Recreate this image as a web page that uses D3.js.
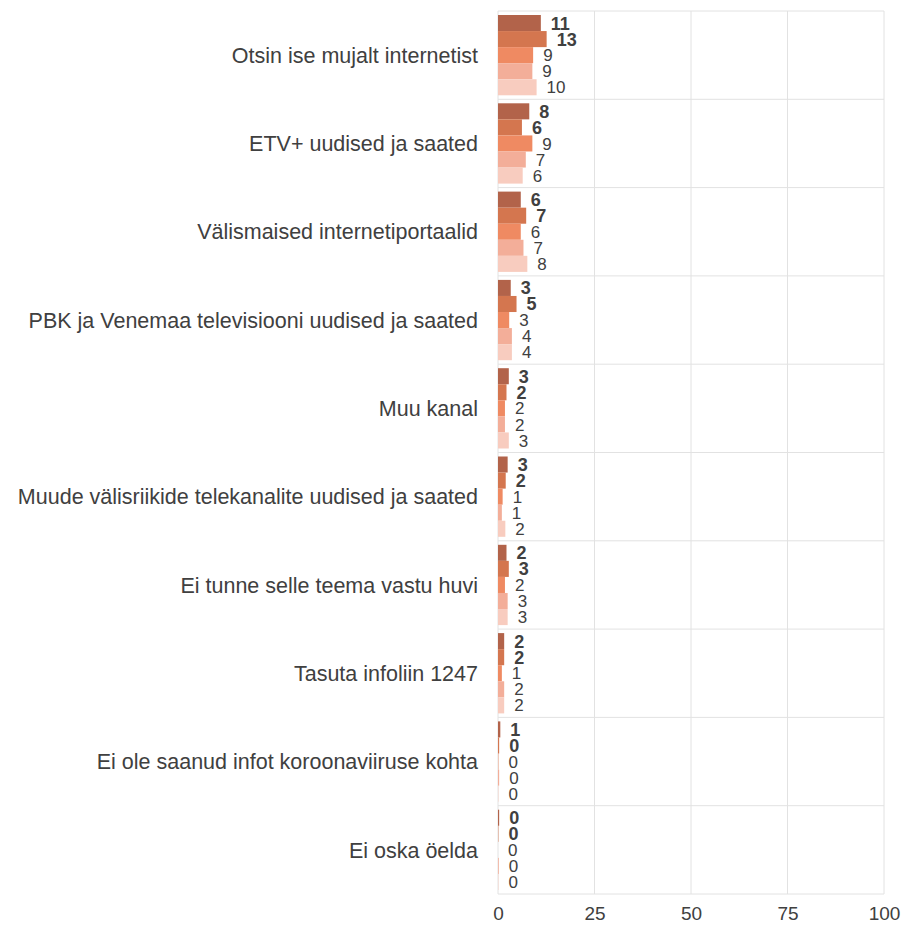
<!DOCTYPE html>
<html>
<head>
<meta charset="utf-8">
<script src="https://cdn.jsdelivr.net/npm/d3@7"></script>
<style>
  body { margin: 0; background: #fff; }
  #chart { width: 904px; height: 927px; }
  text { font-family: "Liberation Sans", Arial, sans-serif; }
</style>
</head>
<body>
<div id="chart"></div>
<script>
const categories = [
    "Otsin ise mujalt internetist",
    "ETV+ uudised ja saated",
    "Välismaised internetiportaalid",
    "PBK ja Venemaa televisiooni uudised ja saated",
    "Muu kanal",
    "Muude välisriikide telekanalite uudised ja saated",
    "Ei tunne selle teema vastu huvi",
    "Tasuta infoliin 1247",
    "Ei ole saanud infot koroonaviiruse kohta",
    "Ei oska öelda"
];
const seriesNames = ["s1", "s2", "s3", "s4", "s5"];
const series1 = [11.1, 8.1, 5.9, 3.3, 2.8, 2.5, 2.2, 1.6, 0.6, 0.3];
const series2 = [12.6, 6.2, 7.3, 4.8, 2.2, 2.0, 2.8, 1.6, 0.3, 0.1];
const series3 = [9.1, 8.9, 5.9, 2.9, 1.8, 1.2, 1.8, 1.0, 0.1, 0.0];
const series4 = [8.9, 7.2, 6.6, 3.6, 1.8, 1.0, 2.5, 1.6, 0.3, 0.2];
const series5 = [10.0, 6.4, 7.6, 3.6, 2.8, 1.9, 2.5, 1.6, 0.1, 0.1];
const xTicks = [0, 25, 50, 75, 100];

function renderChart(containerSelector) {
    const container = d3.select(containerSelector);
    const width = 904, height = 927;
    const margin = { top: 11, right: 20, bottom: 33, left: 498 };
    const innerW = width - margin.left - margin.right;
    const innerH = height - margin.top - margin.bottom;

    const allSeries = [series1, series2, series3, series4, series5];
    const colors = ["#b2634a", "#d4764f", "#ef8a62", "#f3ae99", "#f8ccbf"];
    const textColor = "#404040";

    const svg = container.append("svg")
        .attr("width", width)
        .attr("height", height);
    const g = svg.append("g")
        .attr("transform", `translate(${margin.left},${margin.top})`);

    const x = d3.scaleLinear().domain([0, 100]).range([0, innerW]);
    const y = d3.scaleBand().domain(categories).range([0, innerH]).padding(0);
    const ySub = d3.scaleBand().domain(seriesNames)
        .range([4, y.bandwidth() - 4]).padding(0);

    // Gridlines
    g.selectAll(".vgrid")
        .data(xTicks)
        .join("line")
        .attr("x1", d => x(d)).attr("x2", d => x(d))
        .attr("y1", 0).attr("y2", innerH)
        .attr("stroke", "#e2e2e2").attr("stroke-width", 1);

    // Category separators
    const bounds = categories.map(c => y(c)).concat([innerH]);
    g.selectAll(".hgrid")
        .data(bounds)
        .join("line")
        .attr("x1", 0).attr("x2", innerW)
        .attr("y1", d => d).attr("y2", d => d)
        .attr("stroke", "#e2e2e2").attr("stroke-width", 1);

    // Bars and labels
    categories.forEach((cat, ci) => {
        const cg = g.append("g").attr("transform", `translate(0,${y(cat)})`);
        seriesNames.forEach((s, si) => {
            const v = allSeries[si][ci];
            cg.append("rect")
                .attr("x", x(0))
                .attr("y", ySub(s))
                .attr("width", x(v) - x(0))
                .attr("height", ySub.bandwidth())
                .attr("fill", colors[si]);
            cg.append("text")
                .attr("x", x(v) + 10)
                .attr("y", ySub(s) + ySub.bandwidth() / 2)
                .attr("dy", "0.36em")
                .attr("fill", textColor)
                .style("font-size", si < 2 ? "18px" : "17px")
                .style("font-weight", si < 2 ? "bold" : "normal")
                .text(Math.round(v));
        });
    });

    // Category labels
    g.selectAll(".cat")
        .data(categories)
        .join("text")
        .attr("x", -20)
        .attr("y", d => y(d) + y.bandwidth() / 2)
        .attr("dy", "0.36em")
        .attr("text-anchor", "end")
        .attr("fill", textColor)
        .style("font-size", "21.5px")
        .text(d => d);

    // X axis
    const xAxis = g.append("g")
        .attr("transform", `translate(0,${innerH})`)
        .call(d3.axisBottom(x).tickValues(xTicks).tickSize(0).tickPadding(13));
    xAxis.select(".domain").remove();
    xAxis.selectAll("text")
        .attr("fill", textColor)
        .style("font-size", "19px")
        .style("font-family", "'Liberation Sans', Arial, sans-serif");
}

renderChart("#chart");
</script>
</body>
</html>
